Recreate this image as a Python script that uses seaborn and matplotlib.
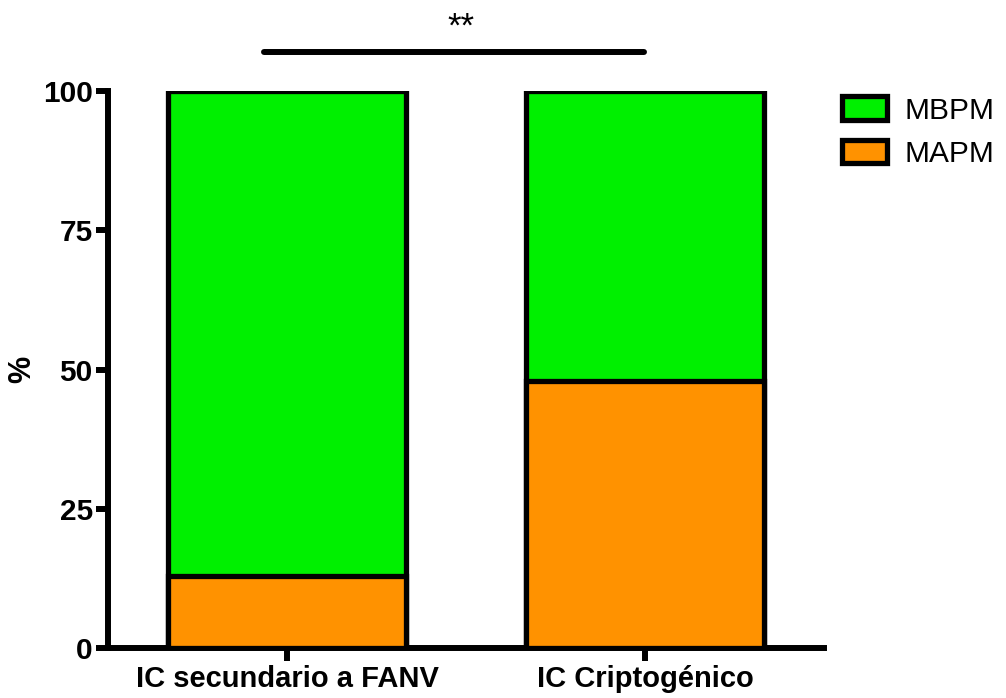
import matplotlib
matplotlib.use("Agg")
import matplotlib.pyplot as plt
import seaborn as sns
import pandas as pd
from matplotlib.patches import Patch

# data
groups = ["IC secundario a FANV", "IC Criptogénico"]
mapm = [13, 48]
mbpm = [87, 52]
series_names = ["MBPM", "MAPM"]
colors = {"MBPM": "#00F000", "MAPM": "#FF9200"}
sig_label = "**"

sns.set_theme(style="white")
plt.rcParams['font.family'] = ['Liberation Sans', 'DejaVu Sans']
plt.rcParams.update({"text.color": "black", "axes.labelcolor": "black",
                     "xtick.color": "black", "ytick.color": "black"})

df = pd.DataFrame({"group": groups, "MAPM": mapm, "MBPM": mbpm})
df["total"] = df["MAPM"] + df["MBPM"]

fig = plt.figure(figsize=(10.06, 6.98), dpi=100)
ax = fig.add_axes([0.1074, 0.0716, 0.7117, 0.798])

lw = 3.8
# stacked: draw total (MBPM on top) then MAPM in front
sns.barplot(data=df, x="group", y="total", color=colors["MBPM"], saturation=1,
            width=0.665, edgecolor="black", linewidth=lw, ax=ax, zorder=2)
sns.barplot(data=df, x="group", y="MAPM", color=colors["MAPM"], saturation=1,
            width=0.665, edgecolor="black", linewidth=lw, ax=ax, zorder=3)

ax.set_xlim(-0.5, 1.5)
ax.set_ylim(0, 100)
ax.set_yticks([0, 25, 50, 75, 100])
ax.set_xlabel("")
ax.set_ylabel("%", fontsize=22, fontweight="bold", color="black")
ax.yaxis.set_label_coords(-0.099, 0.5)

for s in ["top", "right"]:
    ax.spines[s].set_visible(False)
for s in ["left", "bottom"]:
    ax.spines[s].set_linewidth(4.3)
    ax.spines[s].set_color("black")
    ax.spines[s].set_capstyle("projecting")

ax.tick_params(axis="both", length=9, width=4.3, color="black", labelcolor="black",
               direction="out", left=True, bottom=True)
ax.tick_params(axis="y", labelsize=21.5, pad=2)
ax.tick_params(axis="x", labelsize=21, pad=3)
for lab in ax.get_xticklabels() + ax.get_yticklabels():
    lab.set_fontweight("bold")

# significance bar
ax.plot([-0.064, 0.997], [107, 107], color="black", lw=4.3,
        solid_capstyle="round", clip_on=False)
ax.text(0.486, 108.5, sig_label, ha="center", va="bottom", fontsize=25,
        color="black")

handles = [Patch(facecolor=colors[n], edgecolor="black", linewidth=lw, label=n)
           for n in series_names]
leg = fig.legend(handles=handles, loc="upper left", bbox_to_anchor=(0.825, 0.879),
                 frameon=False, fontsize=21.5, handlelength=1.5, handleheight=0.85,
                 handletextpad=0.6, labelspacing=0.5, borderaxespad=0)
for t in leg.get_texts():
    t.set_color("black")

fig.savefig("out.png", dpi=100)
